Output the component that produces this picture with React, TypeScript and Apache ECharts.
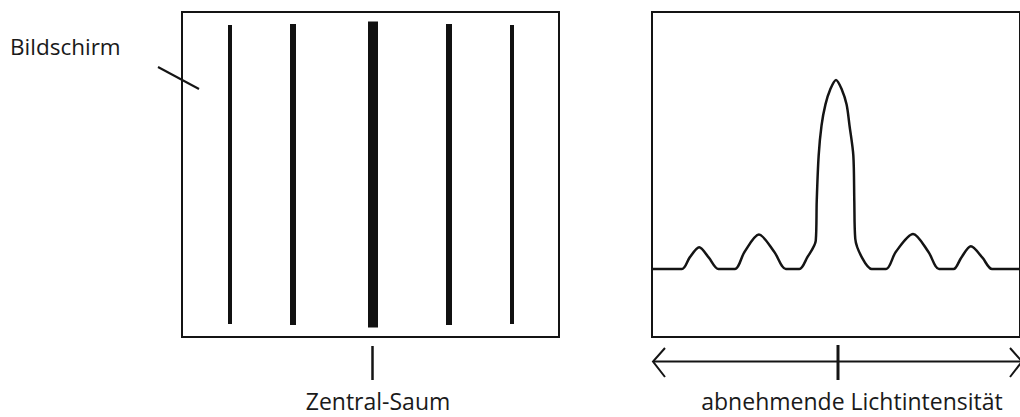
import React, { useEffect, useRef } from "react";
import * as echarts from "echarts";

// Fringe pattern on the screen (left panel): position offset from centre and relative brightness
const fringeX = [-143, -80, 0, 76, 139];
const fringeIntensity = [2, 3, 5, 3, 2];

// Intensity profile (right panel): position offset from centre and relative intensity (peak = 100)
const curveX = [
  -191, -160, -152, -142, -132, -122,
  -105, -95, -80, -64, -52,
  -38, -30, -21, -20, -18, -15, -11, -6, 0, 6, 11, 14, 18, 19, 20, 27, 37,
  52, 62, 80, 96, 107,
  122, 130, 140, 152, 162, 191,
];
const curveY = [
  0, 0, 6, 11.5, 6, 0,
  0, 9, 18.2, 9, 0,
  0, 6, 15, 36, 60, 76, 87, 95, 100, 95, 87, 76, 60, 36, 16, 6, 0,
  0, 9, 18.5, 9, 0,
  0, 6, 12, 6, 0, 0,
];

// Labels
const labelScreen = "Bildschirm";
const labelCentre = "Zentral-Saum";
const labelIntensity = "abnehmende Lichtintensität";

const INK = "#141414";
const FONT = "'Open Sans', 'Noto Sans', sans-serif";

export default function App() {
  const ref = useRef<HTMLDivElement>(null);

  useEffect(() => {
    if (!ref.current) return;
    const chart = echarts.init(ref.current, undefined, { renderer: "svg" });

    const fringeData = fringeX.map((x, i) => [x, fringeIntensity[i]]);
    const curveData = curveX.map((x, i) => [x, curveY[i]]);

    const label = (x: number, y: number, text: string, align: string, size: number) => ({
      type: "text",
      x,
      y,
      style: {
        text,
        fill: "#1a1a1a",
        font: `${size}px ${FONT}`,
        align,
        verticalAlign: "middle",
      },
    });

    chart.setOption({
      animation: false,
      backgroundColor: "#ffffff",
      grid: [
        {
          left: 182,
          top: 12,
          width: 377,
          height: 325,
          show: true,
          borderColor: INK,
          borderWidth: 2,
          backgroundColor: "transparent",
        },
        {
          left: 652,
          top: 12,
          width: 382,
          height: 325,
          show: true,
          borderColor: INK,
          borderWidth: 2,
          backgroundColor: "transparent",
        },
      ],
      xAxis: [
        { type: "value", gridIndex: 0, min: -191, max: 186, show: false },
        { type: "value", gridIndex: 1, min: -191, max: 191, show: false },
      ],
      yAxis: [
        { type: "value", gridIndex: 0, min: 0, max: 325, show: false },
        { type: "value", gridIndex: 1, min: -36, max: 136, show: false },
      ],
      series: [
        {
          type: "custom",
          xAxisIndex: 0,
          yAxisIndex: 0,
          data: fringeData,
          renderItem: (params: any, api: any) => {
            const x = api.value(0);
            const b = api.value(1);
            const extra = b >= 5 ? 3.5 : b >= 3 ? 1 : 0;
            const top = api.coord([x, 312 + extra]);
            const bottom = api.coord([x, 13 - extra]);
            const w = b * 2;
            return {
              type: "rect",
              shape: {
                x: top[0] - w / 2,
                y: top[1],
                width: w,
                height: bottom[1] - top[1],
              },
              style: { fill: "#111" },
            };
          },
        },
        {
          type: "line",
          xAxisIndex: 1,
          yAxisIndex: 1,
          data: curveData,
          symbol: "none",
          smooth: 0.3,
          lineStyle: { color: INK, width: 2.5 },
        },
      ],
      graphic: [
        {
          type: "line",
          shape: { x1: 158, y1: 67, x2: 199, y2: 89 },
          style: { stroke: INK, lineWidth: 2 },
        },
        {
          type: "line",
          shape: { x1: 372.5, y1: 346, x2: 372.5, y2: 380 },
          style: { stroke: INK, lineWidth: 2.5 },
        },
        {
          type: "line",
          shape: { x1: 653, y1: 361.5, x2: 1022, y2: 361.5 },
          style: { stroke: INK, lineWidth: 2 },
        },
        {
          type: "polyline",
          shape: { points: [[665, 348], [653, 361.5], [665, 377]] },
          style: { stroke: INK, lineWidth: 2, fill: "none" },
        },
        {
          type: "polyline",
          shape: { points: [[1010, 348], [1022, 361.5], [1010, 377]] },
          style: { stroke: INK, lineWidth: 2, fill: "none" },
        },
        {
          type: "line",
          shape: { x1: 838, y1: 345, x2: 838, y2: 380 },
          style: { stroke: INK, lineWidth: 3 },
        },
        label(10, 46, labelScreen, "left", 22.5),
        label(378, 401, labelCentre, "center", 23),
        label(852, 401, labelIntensity, "center", 23),
      ],
    });

    return () => chart.dispose();
  }, []);

  return (
    <div
      ref={ref}
      style={{ position: "absolute", left: 0, top: 0, width: 1020, height: 417 }}
    />
  );
}
